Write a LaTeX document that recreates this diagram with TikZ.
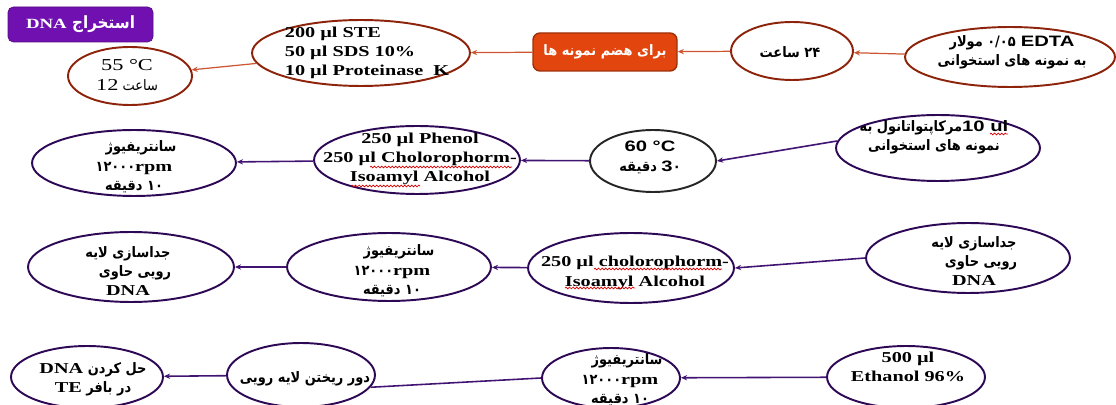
\documentclass[tikz,border=0pt]{standalone}
\usepackage{fontspec}
\setmainfont{Liberation Serif}[FakeStretch=1.34]
\newfontfamily\lsans{Liberation Sans}[FakeStretch=1.34]
\newfontfamily\fa{DejaVu Sans}[Script=Arabic,FakeStretch=0.9]
\newcommand\fs{\fa\fontsize{8.2}{11}\selectfont}
\TeXXeTstate=1
\usetikzlibrary{shapes.geometric,arrows.meta,decorations.pathmorphing}
\definecolor{ovalred}{RGB}{140,35,10}
\definecolor{linered}{RGB}{205,85,50}
\definecolor{ovalpurple}{RGB}{45,8,85}
\definecolor{linepurple}{RGB}{65,20,115}
\definecolor{titlepurple}{RGB}{112,16,176}
\definecolor{digestorange}{RGB}{226,70,14}

\begin{document}
\begin{tikzpicture}[x=0.02cm,y=-0.02cm,
    oval/.style 2 args={ellipse, draw, line width=1.1pt, inner sep=0pt,
      minimum width=#1*0.04cm, minimum height=#2*0.04cm},
    txt/.style={align=center, inner sep=0pt, font=\bfseries\fontsize{8.6}{11}\selectfont},
    titlebox/.style={rectangle, rounded corners=3pt, fill=titlepurple, draw=titlepurple!75!black,
      minimum width=145*0.02cm, minimum height=35*0.02cm, inner sep=0pt, text=white,
      font=\bfseries\fontsize{8}{10}\selectfont},
    digestbox/.style={rectangle, rounded corners=4pt, fill=digestorange, draw=digestorange!70!black,
      line width=0.8pt, minimum width=144*0.02cm, minimum height=38*0.02cm, inner sep=0pt,
      text=white, font=\bfseries\fontsize{7.5}{9}\selectfont},
    redflow/.style={draw=linered, line width=0.7pt, -{Stealth[length=3.5pt,width=3pt]}},
    purpleflow/.style={draw=linepurple, line width=0.9pt, -{Stealth[length=3.5pt,width=3pt]}},
    purpleline/.style={draw=linepurple, line width=0.9pt},
    squiggle/.style={draw=red!85!black, line width=0.4pt,
      decorate, decoration={snake, amplitude=0.5pt, segment length=2pt}}]
  \useasboundingbox (0,0) rectangle (1116,405);

  % title
  \node[titlebox] (title) at (80.5,24.5)
    {{\fa\fontsize{9.6}{10}\selectfont\beginR استخراج \beginL{\rmfamily\fontsize{8}{10}\selectfont DNA}\endL\endR}};

  % row 1
  \node[oval={62}{29}, draw=ovalred] (hot) at (130,76) {};
  \node[txt, font=\fontsize{9.5}{11}\selectfont] (hott) at (127,75)
    {55 °C\\{\fs\beginR ساعت \beginL{\rmfamily\fontsize{9.5}{11}\selectfont 12}\endL\endR}};
  \node[oval={109}{33}, draw=ovalred] (ste) at (361,53) {};
  \node[txt, align=left] (stet) at (367,53) {200 µl STE\\50 µl SDS 10\%\\10 µl Proteinase\ \ K};
  \node[digestbox] (digest) at (605,52) {{\fs\beginR برای هضم نمونه ها\endR}};
  \node[oval={61}{29}, draw=ovalred] (day) at (792,51) {};
  \node[txt] (dayt) at (790,52) {{\fs\beginR ۲۴ ساعت\endR}};
  \node[oval={105}{30}, draw=ovalred] (edta) at (1010,57) {};
  \node[txt] (edtat) at (1012,52)
    {\beginR{\lsans EDTA} {\fs ۰/۰۵ مولار}\endR\\{\fs\beginR به نمونه های استخوانی\endR}};

  \draw[redflow] (edta) -- (day);
  \draw[redflow] (day) -- (digest);
  \draw[redflow] (digest) -- (ste);
  \draw[redflow] (ste) -- (hot);

  % row 2
  \node[oval={102}{33}, draw=ovalpurple] (spina) at (134,163) {};
  \node[txt] (spinat) at (134,167)
    {{\fs سانتریفیوژ}\kern-8pt\\{\fs ۱۲۰۰۰}rpm\\{\fs\beginR ۱۰ دقیقه\endR}};
  \node[oval={103}{34}, draw=ovalpurple] (phenol) at (417,160) {};
  \node[txt] (phenolt) at (420,159) {250 µl Phenol\\250 µl Cholorophorm-\\Isoamyl Alcohol};
  \node[oval={63}{31}, draw=black!85] (sixty) at (653,161) {};
  \node[txt] (sixtyt) at (650,157.5)
    {{\lsans 60 °C}\\{\fs\beginR\beginL{\lsans\fontsize{8.6}{11}\selectfont 3}۰\endL{} دقیقه\endR}};
  \node[oval={102}{33}, draw=ovalpurple] (tenul) at (938,148) {};
  \node[txt] (tenult) at (934,137)
    {{\fs\beginR\beginL{\lsans\fontsize{8.6}{11}\selectfont 10 ul}\endL{}مرکاپتواتانول به\endR}\\{\fs\beginR نمونه های استخوانی\endR}};

  \draw[purpleflow] (tenul.176) -- (sixty.east);
  \draw[purpleflow] (sixty) -- (phenol);
  \draw[purpleflow] (phenol) -- (spina);

  % spelling marks
  \draw[squiggle] (370,167) -- (512,167);
  \draw[squiggle] (351,186) -- (420,186);
  \draw[squiggle] (990,134) -- (1008,134);

  % row 3
  \node[oval={103}{35}, draw=ovalpurple] (dnal) at (131,267) {};
  \node[txt] (dnalt) at (128,271)
    {{\fs\beginR جداسازی لایه\endR}\\{\fs\beginR رویی حاوی\endR}\kern-8pt\\DNA};
  \node[oval={102}{34}, draw=ovalpurple] (spinb) at (389,267) {};
  \node[txt] (spinbt) at (392,271)
    {{\fs سانتریفیوژ}\kern-8pt\\{\fs ۱۲۰۰۰}rpm\\{\fs\beginR ۱۰ دقیقه\endR}};
  \node[oval={103}{35}, draw=ovalpurple] (chl) at (631,268) {};
  \node[txt] (chlt) at (635,273) {250 µl cholorophorm-\\Isoamyl Alcohol};
  \node[oval={102}{35}, draw=ovalpurple] (dnar) at (968,258) {};
  \node[txt] (dnart) at (974,261)
    {{\fs\beginR جداسازی لایه\endR}\\{\fs\beginR رویی حاوی\endR}\kern-8pt\\DNA};

  \draw[purpleflow] (dnar.west) -- (chl.east);
  \draw[purpleflow] (chl) -- (spinb);
  \draw[purpleflow] (spinb) -- (dnal);

  \draw[squiggle] (594,269) -- (722,269);
  \draw[squiggle] (565,288) -- (635,288);

  % row 4
  \node[oval={76}{31}, draw=ovalpurple] (te) at (87,377) {};
  \node[txt] (tet) at (93,379)
    {{\fs\beginR حل کردن \beginL{\rmfamily\fontsize{8.6}{11}\selectfont DNA}\endL\endR}\\{\fs\beginR در بافر \beginL{\rmfamily\fontsize{8.6}{11}\selectfont TE}\endL\endR}};
  \node[oval={74}{32}, draw=ovalpurple] (discard) at (301,375) {};
  \node[txt] (discardt) at (305,379) {{\fs\beginR دور ریختن لایه رویی\endR}};
  \node[oval={69}{30}, draw=ovalpurple] (spinc) at (611,378) {};
  \node[txt] (spinct) at (620,380)
    {{\fs سانتریفیوژ}\kern-8pt\\{\fs ۱۲۰۰۰}rpm\\{\fs\beginR ۱۰ دقیقه\endR}};
  \node[oval={79}{31}, draw=ovalpurple] (ethanol) at (906,377) {};
  \node[txt] (ethanolt) at (908,367) {500 µl\\Ethanol 96\%};

  \draw[purpleflow] (ethanol) -- (spinc);
  \draw[purpleline] (spinc.west) -- (discard.-10);
  \draw[purpleflow] (discard) -- (te);
\end{tikzpicture}
\end{document}
